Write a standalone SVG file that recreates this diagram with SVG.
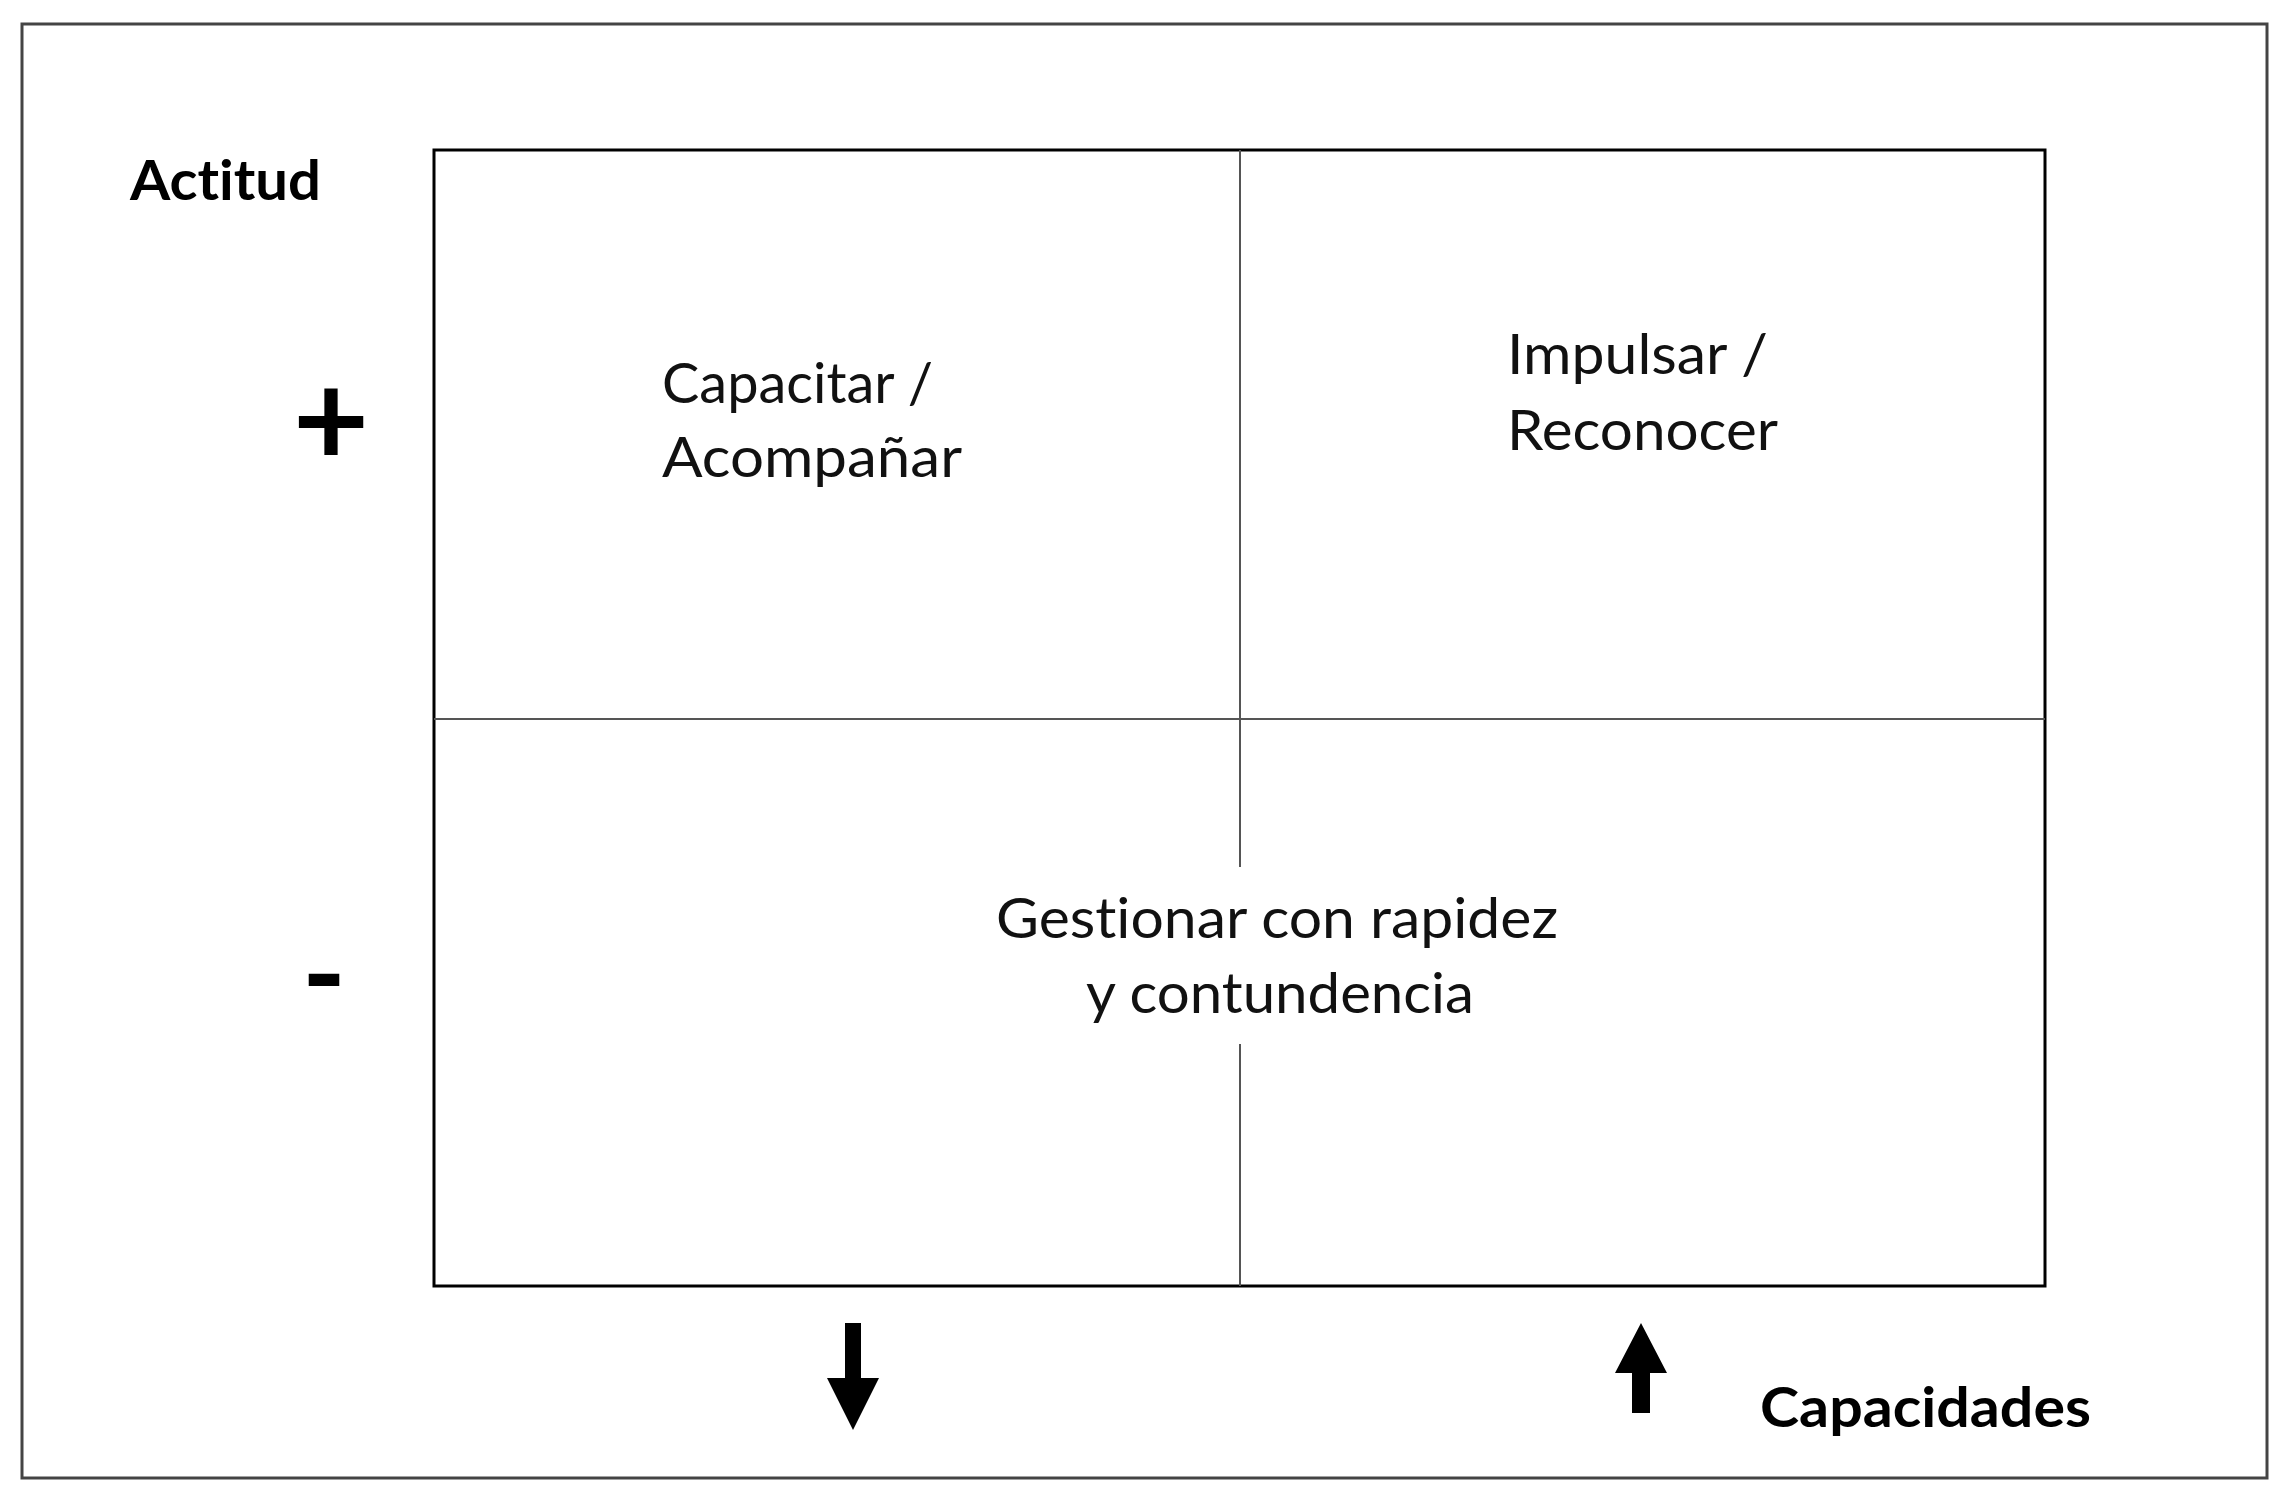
<svg xmlns="http://www.w3.org/2000/svg" width="2296" height="1500" viewBox="0 0 2296 1500">
<style>
text{font-variant-ligatures:none;font-feature-settings:"liga" 0,"clig" 0}
.t{font-family:Lato,"Open Sans","Liberation Sans",sans-serif;font-size:56px;fill:#111}
.b{font-family:Lato,"Open Sans","Liberation Sans",sans-serif;font-size:56px;font-weight:bold;fill:#000}
.sym{font-family:Lato,"Liberation Sans",sans-serif;font-weight:bold;fill:#000;text-anchor:middle}
.grid{stroke:#555;stroke-width:2;fill:none}
.arrow{fill:#000}
</style>
<rect width="2296" height="1500" fill="#fff"/>
<rect id="frame" x="22" y="24" width="2245" height="1454" fill="none" stroke="#444" stroke-width="3"/>
<g id="matrix">
<rect x="434" y="150" width="1611" height="1136" fill="#fff" stroke="#000" stroke-width="3"/>
<line class="grid" x1="434" y1="719" x2="2045" y2="719"/>
<line class="grid" x1="1240" y1="150" x2="1240" y2="867"/>
<line class="grid" x1="1240" y1="1044" x2="1240" y2="1286"/>
</g>
<g id="label-actitud"><text class="b" x="130" y="200" textLength="191" lengthAdjust="spacingAndGlyphs">Actitud</text></g>
<g id="label-plus"><text class="sym" x="331" y="466" font-size="132">+</text></g>
<g id="label-minus"><text class="sym" x="324" y="1016" font-size="118">-</text></g>
<g id="q-capacitar">
<text class="t" x="662" y="403" textLength="271" lengthAdjust="spacingAndGlyphs">Capacitar /</text>
<text class="t" x="662" y="477" textLength="300" lengthAdjust="spacingAndGlyphs">Acompañar</text>
</g>
<g id="q-impulsar">
<text class="t" x="1507" y="374" textLength="261" lengthAdjust="spacingAndGlyphs">Impulsar /</text>
<text class="t" x="1507" y="450" textLength="271" lengthAdjust="spacingAndGlyphs">Reconocer</text>
</g>
<g id="q-gestionar">
<text class="t" x="996" y="938" textLength="562" lengthAdjust="spacingAndGlyphs">Gestionar con rapidez</text>
<text class="t" x="1086" y="1013" textLength="388" lengthAdjust="spacingAndGlyphs">y contundencia</text>
</g>
<g id="arrows">
<path class="arrow" d="M845 1323 H861 V1378 H879 L853 1430 L827 1378 H845 Z"/>
<path class="arrow" d="M1641 1323 L1667 1373 H1650 V1413 H1632 V1373 H1615 Z"/>
</g>
<g id="label-capacidades"><text class="b" x="1760" y="1427" textLength="331" lengthAdjust="spacingAndGlyphs">Capacidades</text></g>
</svg>
